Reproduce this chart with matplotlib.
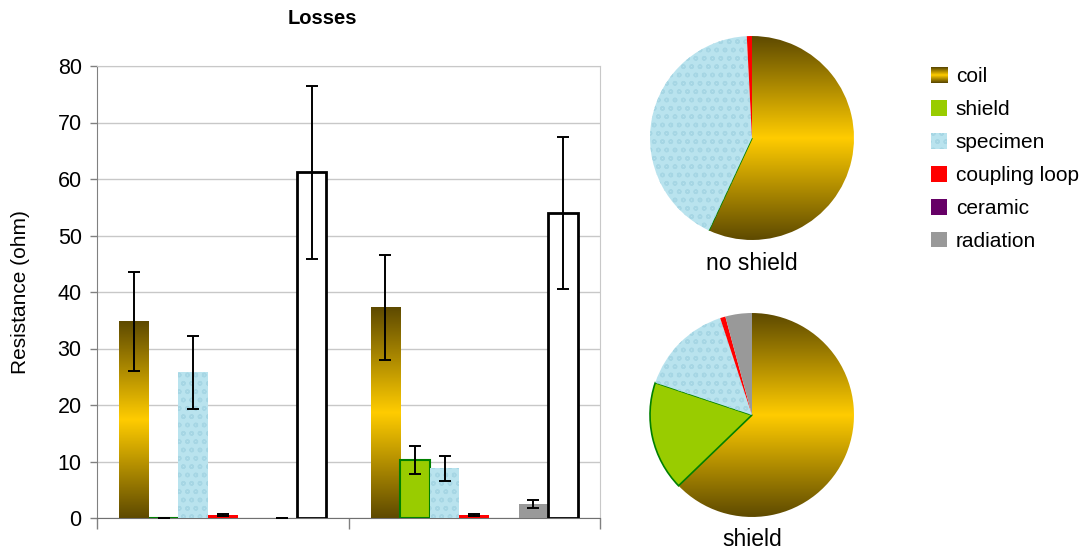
import numpy as np
import matplotlib
matplotlib.use("Agg")
import matplotlib.pyplot as plt
from matplotlib.colors import LinearSegmentedColormap
from matplotlib.patches import Patch

plt.rcParams['font.family'] = ['Liberation Sans', 'DejaVu Sans']

components = ["coil", "shield", "specimen", "coupling loop", "ceramic", "radiation", "total"]
groups = ["no shield", "shield"]
no_shield_vals = [34.8, 0.0, 25.8, 0.5, 0.0, 0.0, 61.2]
no_shield_err = [8.7, 0.0, 6.5, 0.2, 0.0, 0.0, 15.3]
shield_vals = [37.3, 10.3, 8.8, 0.5, 0.0, 2.5, 54.0]
shield_err = [9.3, 2.5, 2.2, 0.2, 0.0, 0.7, 13.4]
yticks = [0, 10, 20, 30, 40, 50, 60, 70, 80]

colors = {"coil": "#c9a200", "shield": "#99cc00", "specimen": "#b9e3ee",
          "coupling loop": "#ff0000", "ceramic": "#660066", "radiation": "#999999",
          "total": "#ffffff"}
edges = {"shield": "#008000", "total": "#000000"}
coil_cmap = LinearSegmentedColormap.from_list("coil", ["#5e4a00", "#ffcc00", "#5e4a00"])
grad = np.linspace(0, 1, 256).reshape(-1, 1)

fig = plt.figure(figsize=(10.88, 5.52), dpi=100)
W, H = 1088, 552
ax = fig.add_axes([97 / W, 1 - 518 / H, (600 - 97) / W, (518 - 66) / H])

w = 1 / 8.5
data = [no_shield_vals, shield_vals]
errs = [no_shield_err, shield_err]
for g in range(2):
    for i, comp in enumerate(components):
        x = g + (i - 3) * w
        v = data[g][i]
        e = errs[g][i]
        fc = colors[comp]
        ec = edges.get(comp, "none")
        lw = 2.0 if comp == "total" else (1.5 if comp == "shield" else 0)
        bars = ax.bar(x, v, width=w, color=fc, edgecolor=ec, linewidth=lw, zorder=3)
        if comp == "coil":
            b = bars[0]
            b.set_facecolor("none")
            im = ax.imshow(grad, cmap=coil_cmap, extent=(x - w / 2, x + w / 2, 0, v),
                           aspect="auto", zorder=2.9, interpolation="bilinear")
            im.set_clip_path(b)
        if comp == "specimen":
            bars[0].set_hatch("oo")
            bars[0].set_edgecolor("#a6d6e4")
            bars[0].set_linewidth(0)
        if comp != "ceramic":
            ax.errorbar(x, v, yerr=e, fmt="none", ecolor="black", elinewidth=1.4,
                        capsize=4, capthick=1.4, zorder=4)

ax.set_xlim(-0.5, 1.5)
ax.set_ylim(0, 80)
ax.set_yticks(yticks)
ax.set_yticklabels([str(t) for t in yticks], fontsize=15.5)
ax.set_xticks([-0.5, 0.5, 1.5])
ax.set_xticklabels([])
ax.tick_params(axis="x", length=8, color="#808080", width=1)
ax.tick_params(axis="y", length=5, color="#808080", width=1, pad=6)
ax.yaxis.grid(True, color="#c8c8c8", linewidth=1, zorder=0)
ax.set_axisbelow(True)
for s in ["top", "right"]:
    ax.spines[s].set_color("#c8c8c8")
ax.spines["left"].set_color("#808080")
ax.spines["bottom"].set_color("#707070")
ax.set_ylabel("Resistance (ohm)", fontsize=15, labelpad=20)
fig.text(322 / W, 1 - 18 / H, "Losses", fontsize=14.5, fontweight="bold", ha="center", va="center")

# pies
pie_centers = [(752, 138), (752, 415)]
R = 103
for g, (cx, cy) in enumerate(pie_centers):
    pax = fig.add_axes([(cx - R) / W, 1 - (cy + R) / H, 2 * R / W, 2 * R / H])
    vals = data[g][:6]
    cols = [colors[c] for c in components[:6]]
    wedges, _ = pax.pie(vals, colors=cols, startangle=90, counterclock=False, radius=1,
                        wedgeprops=dict(linewidth=0))
    for wd, comp in zip(wedges, components[:6]):
        if comp == "coil":
            wd.set_facecolor("none")
            im = pax.imshow(grad, cmap=coil_cmap, extent=(-1, 1, -1, 1), aspect="auto",
                            zorder=0.5, interpolation="bilinear")
            im.set_clip_path(wd)
        if comp == "shield":
            wd.set_edgecolor("#008000")
            wd.set_linewidth(1.2)
        if comp == "specimen":
            wd.set_hatch("oo")
            wd.set_edgecolor("#a6d6e4")
            wd.set_linewidth(0)
    pax.set_xlim(-1.01, 1.01)
    pax.set_ylim(-1.01, 1.01)
    pax.set_aspect("equal")
    pax.axis("off")
    fig.text(cx / W, 1 - (cy + R + 22) / H, groups[g], fontsize=16.5, ha="center", va="center")

handles = [Patch(facecolor=colors[c], edgecolor="none") for c in components[:6]]
handles[0] = Patch(facecolor="none", edgecolor="none")
handles[2] = Patch(facecolor=colors["specimen"], edgecolor="#a6d6e4", hatch="oo", linewidth=0)
leg = fig.legend(handles, components[:6], loc="upper left",
                 bbox_to_anchor=(912 / W, 1 - 48 / H), frameon=False, fontsize=15,
                 handlelength=0.8, handleheight=0.8, handletextpad=0.4, labelspacing=0.66)

# gradient swatch for the coil legend entry
fig.canvas.draw()
ext = leg.get_patches()[0].get_window_extent()
hw, hh = int(round(ext.width)), int(round(ext.height))
col = coil_cmap(np.linspace(0, 1, hh))[:, :3]
sw = np.repeat(col[:, None, :], hw, axis=1)
fig.figimage(sw, xo=int(round(ext.x0)), yo=int(round(ext.y0)), origin="upper", zorder=10)

fig.savefig("out.png", dpi=100)
